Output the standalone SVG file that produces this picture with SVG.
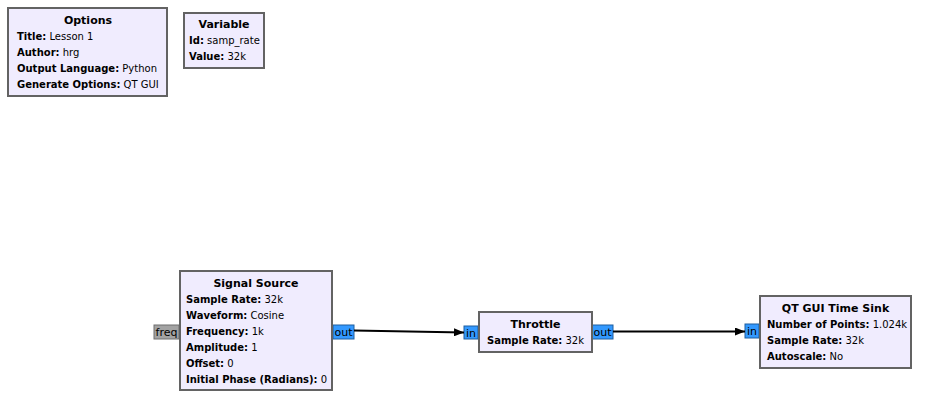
<svg xmlns="http://www.w3.org/2000/svg" width="931" height="406" viewBox="0 0 931 406">
<defs>
<style>
.blk{fill:#F0ECFE;stroke:#636363;stroke-width:2}
.t{font-family:"DejaVu Sans",sans-serif;font-size:10px;fill:#000}
.h{font-size:11px}
.p{font-size:11px}
.b{font-weight:bold}
.c{text-anchor:middle}
.port{fill:#3399FF;stroke:#1F5F9F;stroke-width:1}
.mport{fill:#A3A3A3;stroke:#6E6E6E;stroke-width:1}
.conn{stroke:#000;stroke-width:2;fill:none}
</style>
<marker id="arr" viewBox="0 0 10 8" refX="10" refY="4" markerWidth="10" markerHeight="8" markerUnits="userSpaceOnUse" orient="auto">
<path d="M0,0 L10,4 L0,8 Z" fill="#000"/>
</marker>
</defs>
<rect width="931" height="406" fill="#FFFFFF"/>

<g id="options">
<rect class="blk" x="8" y="8" width="159" height="88"/>
<text class="t h b c" x="88" y="24">Options</text>
<text class="t" x="17" y="40"><tspan class="b">Title:</tspan> Lesson 1</text>
<text class="t" x="17" y="56"><tspan class="b">Author:</tspan> hrg</text>
<text class="t" x="17" y="72"><tspan class="b">Output Language:</tspan> Python</text>
<text class="t" x="17" y="88"><tspan class="b">Generate Options:</tspan> QT GUI</text>
</g>

<g id="variable">
<rect class="blk" x="184" y="13" width="80" height="55"/>
<text class="t h b c" x="224" y="28">Variable</text>
<text class="t" x="189" y="44"><tspan class="b">Id:</tspan> samp_rate</text>
<text class="t" x="189" y="60"><tspan class="b">Value:</tspan> 32k</text>
</g>

<g id="signal_source">
<rect class="mport" x="154" y="325" width="25" height="14"/>
<text class="t p c" x="166.5" y="336">freq</text>
<rect class="port" x="333" y="325" width="21" height="14"/>
<text class="t p c" x="343.5" y="336">out</text>
<rect class="blk" x="180" y="271" width="152" height="119"/>
<text class="t h b c" x="256" y="287">Signal Source</text>
<text class="t" x="186" y="303"><tspan class="b">Sample Rate:</tspan> 32k</text>
<text class="t" x="186" y="319"><tspan class="b">Waveform:</tspan> Cosine</text>
<text class="t" x="186" y="335"><tspan class="b">Frequency:</tspan> 1k</text>
<text class="t" x="186" y="351"><tspan class="b">Amplitude:</tspan> 1</text>
<text class="t" x="186" y="367"><tspan class="b">Offset:</tspan> 0</text>
<text class="t" x="186" y="383"><tspan class="b">Initial Phase (Radians):</tspan> 0</text>
</g>

<g id="throttle">
<rect class="port" x="464" y="326" width="14" height="13"/>
<text class="t p c" x="471" y="337">in</text>
<rect class="port" x="592" y="325" width="21" height="14"/>
<text class="t p c" x="602.5" y="336">out</text>
<rect class="blk" x="479" y="312" width="113" height="40"/>
<text class="t h b c" x="535.5" y="328">Throttle</text>
<text class="t" x="487" y="344"><tspan class="b">Sample Rate:</tspan> 32k</text>
</g>

<g id="time_sink">
<rect class="port" x="745" y="324" width="14" height="14"/>
<text class="t p c" x="752" y="335">in</text>
<rect class="blk" x="760" y="296" width="151" height="72"/>
<text class="t h b c" x="835.5" y="312">QT GUI Time Sink</text>
<text class="t" x="767" y="328"><tspan class="b">Number of Points:</tspan> 1.024k</text>
<text class="t" x="767" y="344"><tspan class="b">Sample Rate:</tspan> 32k</text>
<text class="t" x="767" y="360"><tspan class="b">Autoscale:</tspan> No</text>
</g>

<g id="connectors">
<path class="conn" d="M354,330.5 L464,332.5" marker-end="url(#arr)"/>
<path class="conn" d="M613,331.5 L745,331.5" marker-end="url(#arr)"/>
</g>
</svg>
